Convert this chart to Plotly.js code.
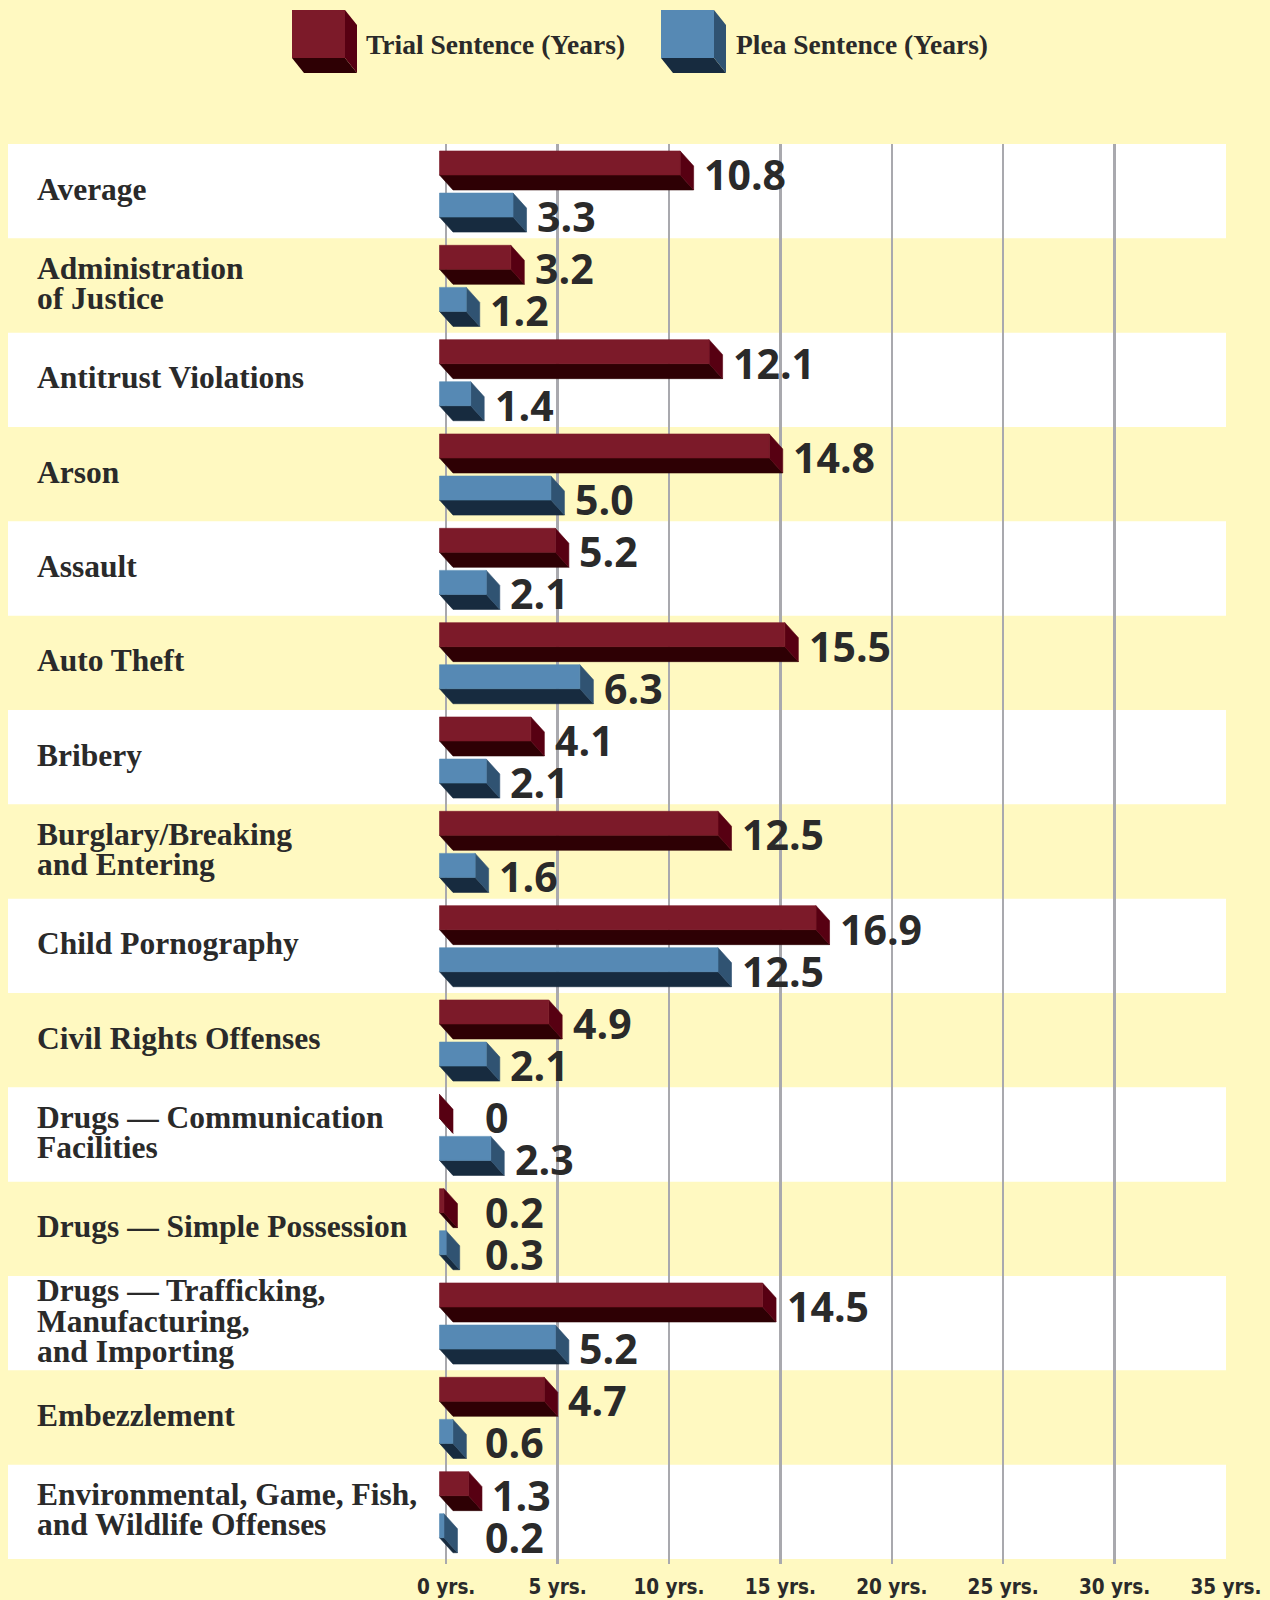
<!DOCTYPE html>
<html>
<head>
<meta charset="utf-8">
<script src="https://cdn.plot.ly/plotly-3.0.1.min.js"></script>
<style>
  html, body { margin: 0; padding: 0; background: #fff9c1; }
  #chart { width: 1270px; height: 1600px; }
</style>
</head>
<body>
<div id="chart"></div>
<script>
// ---------------- DATA ----------------
const categories = [
  "Average",
  "Administration<br>of Justice",
  "Antitrust Violations",
  "Arson",
  "Assault",
  "Auto Theft",
  "Bribery",
  "Burglary/Breaking<br>and Entering",
  "Child Pornography",
  "Civil Rights Offenses",
  "Drugs — Communication<br>Facilities",
  "Drugs — Simple Possession",
  "Drugs — Trafficking,<br>Manufacturing,<br>and Importing",
  "Embezzlement",
  "Environmental, Game, Fish,<br>and Wildlife Offenses"
];
const trialYears = [10.8, 3.2, 12.1, 14.8, 5.2, 15.5, 4.1, 12.5, 16.9, 4.9, 0, 0.2, 14.5, 4.7, 1.3];
const pleaYears  = [3.3, 1.2, 1.4, 5.0, 2.1, 6.3, 2.1, 1.6, 12.5, 2.1, 2.3, 0.3, 5.2, 0.6, 0.2];
const trialLabels = ["10.8","3.2","12.1","14.8","5.2","15.5","4.1","12.5","16.9","4.9","0","0.2","14.5","4.7","1.3"];
const pleaLabels  = ["3.3","1.2","1.4","5.0","2.1","6.3","2.1","1.6","12.5","2.1","2.3","0.3","5.2","0.6","0.2"];
const tickValues = [0, 5, 10, 15, 20, 25, 30, 35];
const tickLabels = ["0 yrs.", "5 yrs.", "10 yrs.", "15 yrs.", "20 yrs.", "25 yrs.", "30 yrs.", "35 yrs."];
const seriesNames = ["Trial Sentence (Years)", "Plea Sentence (Years)"];

// ---------------- STYLE / GEOMETRY ----------------
const W = 1270, H = 1600;
const M = { l: 8, r: 44, t: 144, b: 36 };
const plotW = W - M.l - M.r, plotH = H - M.t - M.b;
const xRange = [-19.667, 35];
const nRows = categories.length;
const yRange = [nRows - 0.5 + 0.053, -0.5];
const pxPerYr = plotW / (xRange[1] - xRange[0]);
const pxPerRow = plotH / (yRange[0] - yRange[1]);

const BG = "#fff9c1";
const TEXT = "#2a2a2a";
const colors = {
  trial: { front: "#7c1a29", bottom: "#2e0004", side: "#570012" },
  plea:  { front: "#5689b4", bottom: "#172b3f", side: "#305372" }
};
const barStart = -0.3;                 // front face starts slightly left of 0
const depthX = 13.5 / pxPerYr;         // extrusion in data units
const depthY = 15 / pxPerRow;
const frontH = 24 / pxPerRow;
const offsets = { trial: -0.426, plea: 0.02 };  // front-top relative to row centre

function faces(values, key) {
  const fx = [], fy = [], bx = [], by = [], sx = [], sy = [];
  values.forEach((v, i) => {
    const x0 = barStart, x1 = barStart + v;
    const yt = i + offsets[key], yb = yt + frontH, ye = yb + depthY;
    fx.push(x0, x1, x1, x0, x0, null); fy.push(yt, yt, yb, yb, yt, null);
    bx.push(x0, x1, x1 + depthX, x0 + depthX, x0, null); by.push(yb, yb, ye, ye, yb, null);
    sx.push(x1, x1 + depthX, x1 + depthX, x1, x1, null); sy.push(yt, yt + depthY, ye, yb, yt, null);
  });
  const c = colors[key];
  const mk = (x, y, col) => ({
    type: "scatter", mode: "lines", x, y, fill: "toself", fillcolor: col,
    line: { color: col, width: 0.6 }, hoverinfo: "skip", showlegend: false
  });
  return [mk(bx, by, c.bottom), mk(sx, sy, c.side), mk(fx, fy, c.front)];
}

const data = [...faces(trialYears, "trial"), ...faces(pleaYears, "plea")];

// row bands
const shapes = [];
categories.forEach((c, i) => {
  if (i % 2 === 0) {
    shapes.push({ type: "rect", xref: "paper", yref: "y", x0: 0, x1: 1, y0: i - 0.5, y1: i + 0.5,
      fillcolor: "#ffffff", line: { width: 0 }, layer: "below" });
  }
});

// legend glyphs (paper coords from pixels)
const px2x = px => (px - M.l) / plotW;
const px2y = py => (M.t + plotH - py) / plotH;
function legendBox(left, c) {
  const top = 10, fw = 53, fh = 48, dx = 12, dy = 15;
  const P = (pts) => "M" + pts.map(p => px2x(p[0]) + "," + px2y(p[1])).join(" L") + " Z";
  return [
    { type: "path", xref: "paper", yref: "paper", path: P([[left, top + fh], [left + fw, top + fh], [left + fw + dx, top + fh + dy], [left + dx, top + fh + dy]]), fillcolor: c.bottom, line: { width: 0 } },
    { type: "path", xref: "paper", yref: "paper", path: P([[left + fw, top], [left + fw + dx, top + dy], [left + fw + dx, top + fh + dy], [left + fw, top + fh]]), fillcolor: c.side, line: { width: 0 } },
    { type: "path", xref: "paper", yref: "paper", path: P([[left, top], [left + fw, top], [left + fw, top + fh], [left, top + fh]]), fillcolor: c.front, line: { width: 0 } }
  ];
}
shapes.push(...legendBox(292, colors.trial), ...legendBox(661, colors.plea));

const annotations = [];
// legend text
[[364, seriesNames[0]], [734, seriesNames[1]]].forEach(([px, t]) => {
  annotations.push({ xref: "paper", yref: "paper", x: px2x(px), y: px2y(45), xanchor: "left", yanchor: "middle",
    text: t, showarrow: false, font: { family: "Liberation Serif, DejaVu Serif, serif", size: 27.5, weight: "bold", color: TEXT } });
});

// category labels (one annotation per line for tight leading)
const lineGap = 30.2;
categories.forEach((c, i) => {
  const lines = c.split("<br>");
  lines.forEach((ln, j) => {
    annotations.push({ xref: "paper", yref: "y", x: px2x(35), y: i, xanchor: "left", yanchor: "middle",
      yshift: ((lines.length - 1) / 2 - j) * lineGap + 2,
      text: ln, showarrow: false,
      font: { family: "Liberation Serif, DejaVu Serif, serif", size: 31.5, weight: "bold", color: TEXT } });
  });
});

// value labels
function valueLabels(values, labels, key) {
  values.forEach((v, i) => {
    annotations.push({ xref: "x", yref: "y", x: barStart + Math.max(v, 0.95), y: i + offsets[key] + frontH,
      xanchor: "left", yanchor: "middle", xshift: 22, yshift: 1, text: labels[i], showarrow: false,
      font: { family: "Open Sans, Noto Sans, sans-serif", size: 41, weight: "bold", color: TEXT } });
  });
}
valueLabels(trialYears, trialLabels, "trial");
valueLabels(pleaYears, pleaLabels, "plea");

const layout = {
  width: W, height: H, margin: M,
  paper_bgcolor: BG, plot_bgcolor: BG,
  showlegend: false,
  xaxis: {
    range: xRange, tickvals: tickValues, ticktext: tickLabels,
    showgrid: true, gridcolor: "#a9a9ae", gridwidth: 2.5,
    zeroline: false, showline: false, ticks: "", fixedrange: true,
    ticklabelstandoff: 8,
    tickfont: { family: "DejaVu Sans Condensed, Liberation Sans Narrow, DejaVu Sans, sans-serif", size: 20.5, weight: "bold", color: TEXT }
  },
  yaxis: { range: yRange, visible: false, showgrid: false, zeroline: false, fixedrange: true },
  shapes, annotations
};

Plotly.newPlot("chart", data, layout, { displayModeBar: false, staticPlot: true });
</script>
</body>
</html>
